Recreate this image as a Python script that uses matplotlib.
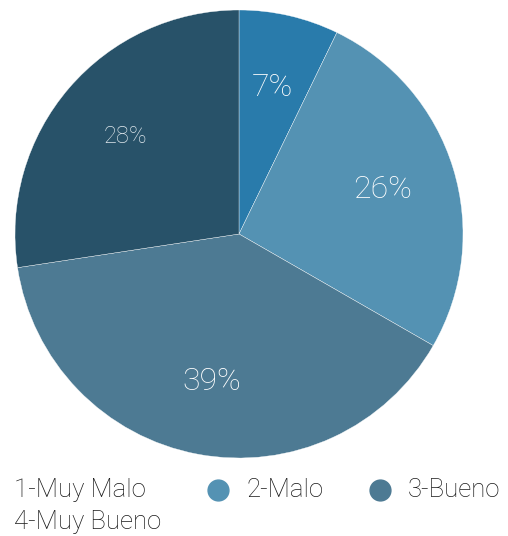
import matplotlib
matplotlib.use('Agg')
import matplotlib.pyplot as plt
from matplotlib.lines import Line2D

labels = ['1-Muy Malo', '2-Malo', '3-Bueno', '4-Muy Bueno']
values = [7.2, 26.1, 39.3, 27.4]
pct_labels = ['7%', '26%', '39%', '28%']
colors = ['#297bab', '#5492b3', '#4d7a93', '#285269']
legend_markers = ['none', '#5492b3', '#4d7a93', 'none']

plt.rcParams['font.family'] = ['Roboto', 'DejaVu Sans']

fig = plt.figure(figsize=(5.08, 5.36), dpi=100)
ax = fig.add_axes([15/508, 1 - 458/536, 448/508, 448/536])

wedges, texts = ax.pie(values, colors=colors, startangle=90, counterclock=False,
                       labels=pct_labels, labeldistance=0.67,
                       wedgeprops=dict(edgecolor='white', linewidth=0.25),
                       textprops=dict(color='white', fontsize=23, fontweight='light',
                                      ha='center', va='center'))
texts[3].set_fontsize(17)
texts[3].set_color('#dfe7ec')
ax.set_xlim(-1, 1)
ax.set_ylim(-1, 1)
ax.set_aspect('equal')

# legend drawn by hand: first and last entries have no visible marker
pos = [(14, 490), (246, 490), (408, 490), (14, 522)]
for lab, mc, (px, py) in zip(labels, legend_markers, pos):
    fig.text(px/508, 1 - py/536, lab, fontsize=18.5, fontweight='light', color='#1a1a1a',
             va='center', ha='left')
    if mc != 'none':
        fig.add_artist(Line2D([(px - 28)/508], [1 - py/536], marker='o', markersize=15,
                              color=mc, linestyle='none', transform=fig.transFigure))

fig.savefig('out.png', dpi=100)
